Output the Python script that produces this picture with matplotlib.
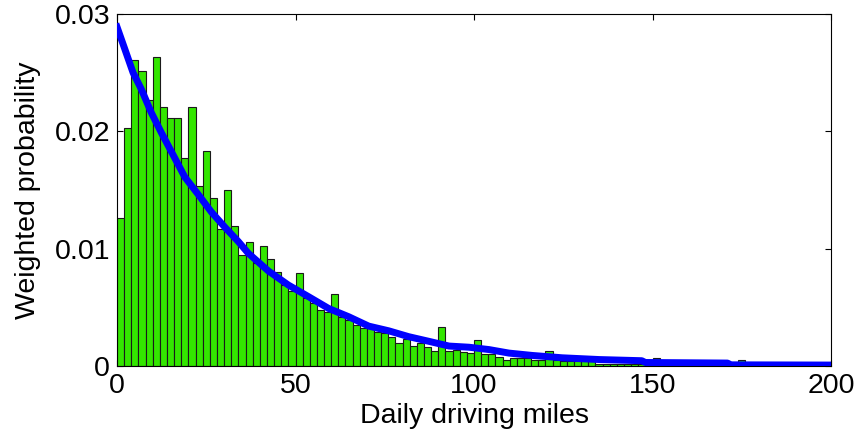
import numpy as np
import matplotlib
matplotlib.use("Agg")
import matplotlib.pyplot as plt

plt.rcParams['font.family'] = ['Liberation Sans', 'DejaVu Sans']

# histogram: 2-mile bins from 0 to 200
bin_width = 2
bin_left = np.arange(0, 200, bin_width)
probability = [
    0.0126, 0.0203, 0.0261, 0.0251, 0.0227, 0.0263, 0.0221, 0.0211, 0.0211, 0.0177,
    0.0221, 0.0153, 0.0183, 0.0143, 0.0117, 0.0150, 0.0119, 0.0095, 0.0106, 0.0088,
    0.0102, 0.0091, 0.0080, 0.0069, 0.0064, 0.0079, 0.0058, 0.0054, 0.0048, 0.0046,
    0.0061, 0.0042, 0.0039, 0.0035, 0.0032, 0.0032, 0.0029, 0.0028, 0.0025, 0.0020,
    0.0023, 0.0017, 0.0020, 0.0016, 0.0013, 0.0033, 0.0013, 0.0014, 0.0012, 0.0011,
    0.0022, 0.0010, 0.0010, 0.0008, 0.0005, 0.0007, 0.0007, 0.0007, 0.0005, 0.0005,
    0.0013, 0.0005, 0.0004, 0.0004, 0.0004, 0.0004, 0.0004, 0.0002, 0.0002, 0.0002,
    0.0002, 0.0002, 0.0002, 0.0002, 0.0002, 0.0007, 0.0001, 0.0001, 0.0001, 0.0001,
    0.0001, 0.0001, 0.0001, 0.0001, 0.0001, 0.0001, 0.0001, 0.0005, 0.00005, 0.00005,
    0.00005, 0.00005, 0.00005, 0.00005, 0.00005, 0.00005, 0.00005, 0.00005, 0.00005, 0.00005,
]

# fitted curve
fit_miles = [0, 2.2, 4.5, 6.8, 9.6, 12.4, 15.7, 19.0, 22.8, 26.5, 30.3, 34, 36.8,
             42.4, 48, 53.7, 59.3, 64.9, 70.5, 76.1, 81.7, 87.4, 93, 98.6, 104.2,
             109.8, 116.3, 124.7, 135.1, 147, 148, 171, 172, 200]
fit_prob = [0.0289, 0.0270, 0.0250, 0.0236, 0.0216, 0.0199, 0.0180, 0.0161, 0.0146,
            0.0131, 0.0118, 0.0106, 0.0096, 0.0081, 0.0069, 0.0059, 0.0049, 0.0042,
            0.0034, 0.0030, 0.0025, 0.0021, 0.0017, 0.0016, 0.0014, 0.0011, 0.0009,
            0.0007, 0.00055, 0.00045, 0.0003, 0.00025, 0.0001, 0.00008]

x_ticks = [0, 50, 100, 150, 200]
y_ticks = [0, 0.01, 0.02, 0.03]
y_tick_labels = ['0', '0.01', '0.02', '0.03']

fig = plt.figure(figsize=(8.55, 4.46), dpi=100)
ax = fig.add_axes([117/855, 80/446, 714/855, 352/446])

ax.bar(bin_left, probability, width=bin_width, align='edge',
       color='#33e600', edgecolor='#1a1a1a', linewidth=0.8, zorder=2)
ax.plot(fit_miles, fit_prob, color='#0000ff', lw=5, zorder=3)

ax.set_xlim(0, 200)
ax.set_ylim(0, 0.03)
ax.set_xticks(x_ticks)
ax.set_xticklabels([str(v) for v in x_ticks])
ax.set_yticks(y_ticks)
ax.set_yticklabels(y_tick_labels)
ax.tick_params(direction='in', top=True, right=True, length=4, width=0.8,
               labelsize=20.5, pad=5, colors='black')
for sp in ax.spines.values():
    sp.set_linewidth(0.8)
    sp.set_color('black')

ax.set_xlabel('Daily driving miles', fontsize=20.5, labelpad=3)
ax.set_ylabel('Weighted probability', fontsize=20.5, labelpad=10)

fig.savefig('out.png', dpi=100)
